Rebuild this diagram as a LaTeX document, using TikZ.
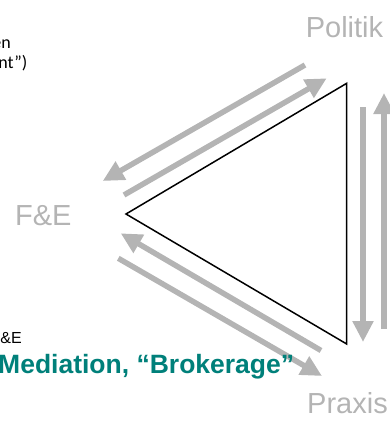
\documentclass[tikz,border=0pt]{standalone}
\usepackage{fontspec}
\setmainfont{Liberation Sans}
\newfontfamily\calib{Carlito}
\usetikzlibrary{arrows.meta}
\definecolor{lgray}{RGB}{180,180,180}
\definecolor{tealc}{RGB}{0,128,122}
\tikzset{
  flow/.style={draw=lgray, line width=5.5pt, -{Triangle[length=21pt,width=20pt]}},
  corner/.style={inner sep=0pt, font=\fontsize{29}{34}\selectfont, text=lgray},
  smalltxt/.style={inner sep=0pt, font=\calib\fontsize{18}{22}\selectfont, text=black},
}
\begin{document}
\begin{tikzpicture}[x=1pt,y=-1pt]
\useasboundingbox (0,0) rectangle (390,426);
\clip (0,0) rectangle (390,426);
% triangle
\coordinate (L) at (126,214);
\coordinate (T) at (346.7,83.3);
\coordinate (B) at (346.7,344);
\draw[line width=1.5pt, line join=miter] (L) -- (T) -- (B) -- cycle;
% arrows
\coordinate (a1s) at (305,65);   \coordinate (a1e) at (102.7,181);
\coordinate (a2s) at (124,195);  \coordinate (a2e) at (326.7,78.3);
\coordinate (a3s) at (363,107);  \coordinate (a3e) at (363,342);
\coordinate (a4s) at (384,329);  \coordinate (a4e) at (384,93);
\coordinate (a5s) at (321,350.5); \coordinate (a5e) at (120.7,233.3);
\coordinate (a6s) at (118.3,258.3); \coordinate (a6e) at (322,376);
\draw[flow] (a1s) -- (a1e);
\draw[flow] (a2s) -- (a2e);
\draw[flow] (a3s) -- (a3e);
\draw[flow] (a4s) -- (a4e);
\draw[flow] (a5s) -- (a5e);
\draw[flow] (a6s) -- (a6e);
% labels
\node[corner, anchor=base] (pol) at (344.5,37) {Politik};
\node[corner, anchor=base] (fe) at (43.3,225) {F\&E};
\node[corner, anchor=base] (prax) at (347.5,413) {Praxis};
% text fragments at the left edge
\node[smalltxt, anchor=base east] (t1) at (11,48) {en};
\node[smalltxt, anchor=base east] (t2) at (27.5,68) {nt”)};
\node[inner sep=0pt, font=\fontsize{16}{20}\selectfont, anchor=base east] (t3) at (22,343.5) {\&E};
\node[inner sep=0pt, font=\bfseries\fontsize{26.5}{30}\selectfont, text=tealc, anchor=base west] (t4) at (-2,373.3) {Mediation, “Brokerage”};
\end{tikzpicture}
\end{document}
